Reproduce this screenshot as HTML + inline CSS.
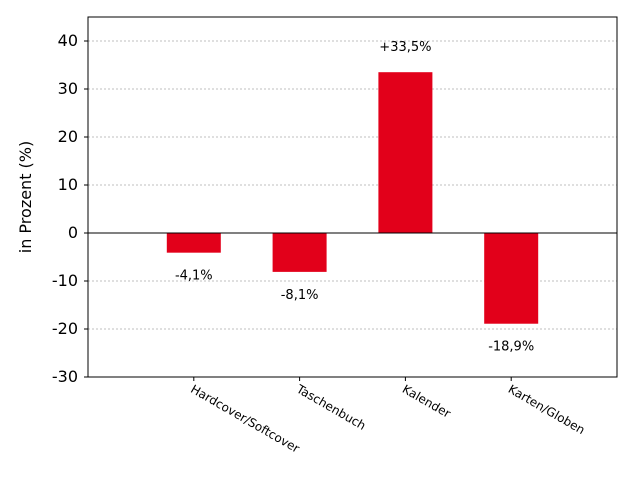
<!DOCTYPE html>
<html><head><meta charset="utf-8"><style>body{margin:0;background:#fff}svg{display:block;font-family:"DejaVu Sans","Liberation Sans",sans-serif}</style></head>
<body>
<svg id="c" width="640" height="480"></svg>
<script>
const categories=["Hardcover/Softcover","Taschenbuch","Kalender","Karten/Globen"];
const values=[-4.1,-8.1,33.5,-18.9];
const valueLabels=["-4,1%","-8,1%","+33,5%","-18,9%"];
const yTicks=[-30,-20,-10,0,10,20,30,40];
const L=88,R=617,T=17,B=377,yMin=-30,yMax=45,xMin=0,xMax=5;
const NS="http://www.w3.org/2000/svg";
const svg=document.getElementById('c');
const y=v=>B-(v-yMin)/(yMax-yMin)*(B-T);
const x=i=>L+(i+1-xMin)/(xMax-xMin)*(R-L);
function mk(t,a,p){const e=document.createElementNS(NS,t);for(const k in a)e.setAttribute(k,a[k]);(p||svg).appendChild(e);return e;}
yTicks.forEach(v=>{
  if(v!==0){const g=mk('line',{x1:L,x2:R,y1:y(v),y2:y(v),stroke:'#aaa','stroke-dasharray':'2,2','stroke-width':0.8});
  
  }
  mk('line',{x1:L-4,x2:L,y1:y(v),y2:y(v),stroke:'#000'});
  const t=mk('text',{x:L-10,y:y(v)+5,'text-anchor':'end','font-size':16});
  t.textContent=v;
  
  
});
values.forEach((v,i)=>{
  const w=54,cx=x(i);
  const r=mk('rect',{x:cx-w/2,y:Math.min(y(v),y(0)),width:w,height:Math.abs(y(v)-y(0)),fill:'#e2001a'});
  
  
  const ly=v>=0?y(v)-21:y(v)+27;
  const t=mk('text',{x:cx,y:ly,'text-anchor':'middle','font-size':13});
  t.textContent=valueLabels[i];
  
  
  mk('line',{x1:cx,x2:cx,y1:B,y2:B+4,stroke:'#000'});
  const c=mk('text',{x:cx-2,y:B+15,'font-size':12,transform:`rotate(30 ${cx-2} ${B+11})`});
  c.textContent=categories[i];
  
  
});
const z=mk('line',{x1:L,x2:R,y1:y(0),y2:y(0),stroke:'#000','stroke-width':1});


const f=mk('rect',{x:L,y:T,width:R-L,height:B-T,fill:'none',stroke:'#000','stroke-width':1});


const yt=mk('text',{x:31,y:(T+B)/2,'text-anchor':'middle','font-size':16,transform:`rotate(-90 31 ${(T+B)/2})`});
yt.textContent='in Prozent (%)';


</script>
</body></html>
